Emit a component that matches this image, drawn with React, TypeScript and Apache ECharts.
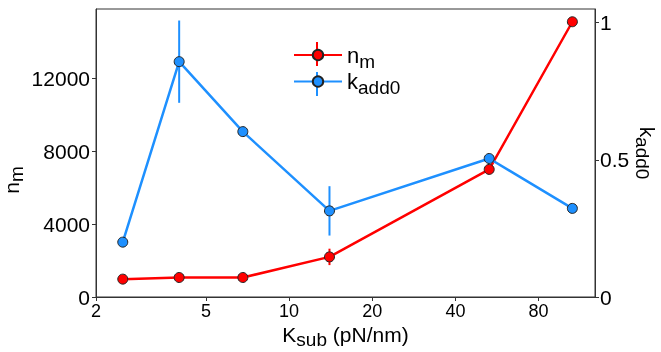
import React, { useEffect, useRef } from 'react';
import * as echarts from 'echarts';

const kSub = [2.5, 4, 6.8, 14, 53, 106];
const nM = [980, 1070, 1070, 2200, 7000, 15100];
const nMErr = [0, 0, 0, 450, 0, 0];
const kAdd0 = [0.2, 0.858, 0.603, 0.314, 0.505, 0.323];
const kAdd0Err = [0, 0.15, 0, 0.09, 0, 0];
const xTicks = [2, 5, 10, 20, 40, 80];
const nmTicks = [0, 4000, 8000, 12000];
const kTicks = [0, 0.5, 1];

const RED = '#ff0000';
const BLUE = '#1e90ff';
const FRAME = '#333333';
const FONT = '"Liberation Sans", Arial, sans-serif';

function errSeries(yAxisIndex: number, vals: number[], errs: number[], color: string) {
  const data = kSub
    .map((x, i) => [x, vals[i] - errs[i], vals[i] + errs[i], errs[i]])
    .filter((d) => d[3] > 0);
  return {
    type: 'custom',
    yAxisIndex,
    z: 2,
    silent: true,
    data,
    renderItem: (params: any, api: any) => {
      const p1 = api.coord([api.value(0), api.value(1)]);
      const p2 = api.coord([api.value(0), api.value(2)]);
      return {
        type: 'line',
        shape: { x1: p1[0], y1: p1[1], x2: p2[0], y2: p2[1] },
        style: { stroke: color, lineWidth: 2 },
      };
    },
  };
}

export default function App() {
  const ref = useRef<HTMLDivElement>(null);
  useEffect(() => {
    if (!ref.current) return;
    const chart = echarts.init(ref.current, undefined, { renderer: 'svg' });
    const rich = {
      a: { fontSize: 21, fontFamily: FONT, color: '#000' },
      b: { fontSize: 19, fontFamily: FONT, color: '#000', padding: [10, 0, 0, 0] },
    };
    const axisCommon = {
      axisLine: { show: true, lineStyle: { color: FRAME, width: 1 } },
      axisTick: { show: true, inside: false, length: 4, lineStyle: { color: FRAME, width: 1 } },
      splitLine: { show: false },
      minorTick: { show: false },
      minorSplitLine: { show: false },
      nameMoveOverlap: false,
    };
    chart.setOption({
      animation: false,
      grid: {
        left: 96,
        right: 66,
        top: 9,
        bottom: 55,
        show: true,
        borderColor: FRAME,
        borderWidth: 1,
        containLabel: false,
        outerBoundsMode: 'none',
      },
      legend: {
        orient: 'vertical',
        left: 293,
        top: 44,
        padding: 0,
        itemWidth: 48,
        itemHeight: 13,
        itemGap: 0,
        data: ['nm', 'kadd0'],
        formatter: (name: string) => (name === 'nm' ? '{a|n}{b|m}' : '{a|k}{b|add0}'),
        textStyle: { rich: { a: { fontSize: 22, fontFamily: FONT, color: '#000' }, b: { fontSize: 19, fontFamily: FONT, color: '#000', padding: [12, 0, 0, 0] } } },
      },
      graphic: [
        { type: 'line', shape: { x1: 317, y1: 42, x2: 317, y2: 66 }, style: { stroke: RED, lineWidth: 2 }, z: 0 },
        { type: 'line', shape: { x1: 317, y1: 72, x2: 317, y2: 96 }, style: { stroke: BLUE, lineWidth: 2 }, z: 0 },
      ],
      xAxis: {
        type: 'log',
        logBase: 10,
        min: 2,
        max: 128,
        ...axisCommon,
        axisTick: { ...axisCommon.axisTick, customValues: xTicks },
        axisLabel: {
          customValues: xTicks,
          fontSize: 18,
          fontFamily: FONT,
          color: '#000',
          margin: 5,
          formatter: (v: number) => String(Math.round(v)),
        },
        name: '{a|K}{b|sub}{a| (pN/nm)}',
        nameLocation: 'middle',
        nameGap: 23,
        nameTextStyle: { rich },
      },
      yAxis: [
        {
          type: 'value',
          min: 0,
          max: 15800,
          position: 'left',
          ...axisCommon,
          axisTick: { ...axisCommon.axisTick, customValues: nmTicks },
          axisLabel: {
            customValues: nmTicks,
            fontSize: 21,
            fontFamily: FONT,
            color: '#000',
            margin: 6,
            formatter: (v: number) => String(v),
          },
          name: '{a|n}{b|m}',
          nameLocation: 'middle',
          nameGap: 70,
          nameRotate: 90,
          nameTextStyle: { rich, padding: [0, 54, 0, 0] },
        },
        {
          type: 'value',
          min: 0,
          max: 1.05,
          position: 'right',
          ...axisCommon,
          axisTick: { ...axisCommon.axisTick, customValues: kTicks },
          axisLabel: {
            customValues: kTicks,
            fontSize: 21,
            fontFamily: FONT,
            color: '#000',
            margin: 5,
            formatter: (v: number) => String(v),
          },
          name: '{a|k}{b|add0}',
          nameLocation: 'middle',
          nameGap: 38,
          nameRotate: -90,
          nameTextStyle: { rich },
        },
      ],
      series: [
        errSeries(0, nM, nMErr, RED),
        {
          name: 'nm',
          type: 'line',
          yAxisIndex: 0,
          z: 3,
          data: kSub.map((x, i) => [x, nM[i]]),
          symbol: 'circle',
          symbolSize: 10,
          lineStyle: { color: RED, width: 2.5 },
          itemStyle: { color: RED, borderColor: '#222', borderWidth: 1 },
        },
        errSeries(1, kAdd0, kAdd0Err, BLUE),
        {
          name: 'kadd0',
          type: 'line',
          yAxisIndex: 1,
          z: 4,
          data: kSub.map((x, i) => [x, kAdd0[i]]),
          symbol: 'circle',
          symbolSize: 10,
          lineStyle: { color: BLUE, width: 2.5 },
          itemStyle: { color: BLUE, borderColor: '#222', borderWidth: 1 },
        },
      ],
    });
    return () => chart.dispose();
  }, []);
  return <div ref={ref} style={{ position: 'fixed', left: 0, top: 0, width: 661, height: 352 }} />;
}
